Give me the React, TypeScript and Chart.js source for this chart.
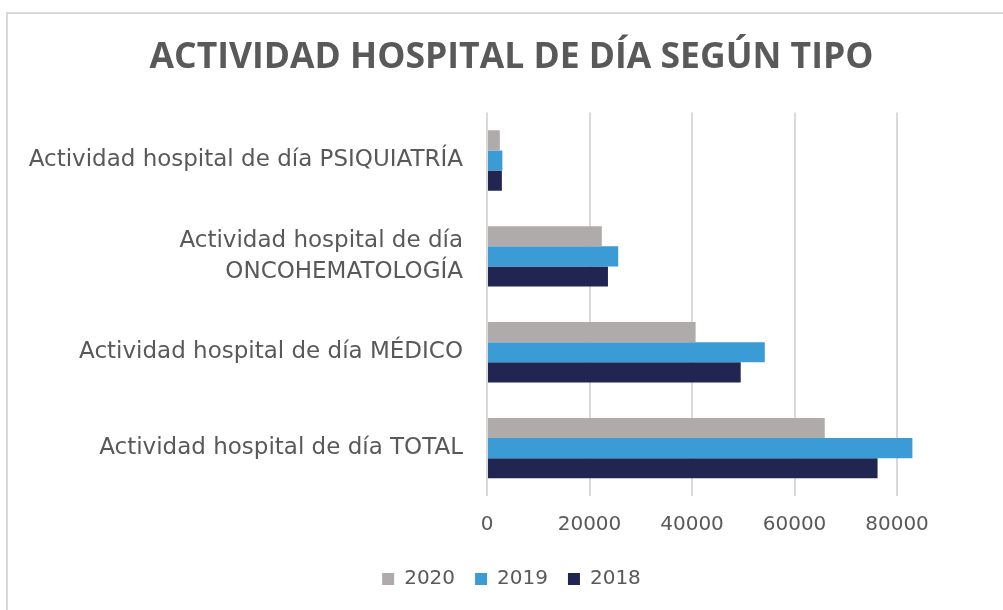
import React, { useEffect, useRef } from "react";
import { Chart, registerables } from "chart.js";

Chart.register(...registerables);

const categories: (string | string[])[] = [
  "Actividad hospital de día PSIQUIATRÍA",
  ["Actividad hospital de día", "ONCOHEMATOLOGÍA"],
  "Actividad hospital de día MÉDICO",
  "Actividad hospital de día TOTAL",
];
const values2020 = [2500, 22400, 40700, 65900];
const values2019 = [3000, 25600, 54200, 83000];
const values2018 = [2900, 23600, 49500, 76200];
const tickValues = [0, 20000, 40000, 60000, 80000];
const axisMax = 99700;
const titleText = "ACTIVIDAD HOSPITAL DE DÍA SEGÚN TIPO";

const TEXT = "#595959";
const FONT = "'DejaVu Sans', 'Open Sans', sans-serif";

export default function App() {
  const ref = useRef<HTMLCanvasElement>(null);
  useEffect(() => {
    document.documentElement.style.overflow = "hidden";
    if (!ref.current) return;
    const chart = new Chart(ref.current, {
      type: "bar",
      data: {
        labels: categories,
        datasets: [
          { label: "2020", data: values2020, backgroundColor: "#AFABAB" },
          { label: "2019", data: values2019, backgroundColor: "#3A9BD5" },
          { label: "2018", data: values2018, backgroundColor: "#212551" },
        ],
      },
      options: {
        indexAxis: "y",
        responsive: false,
        animation: false,
        events: [],
        datasets: { bar: { categoryPercentage: 0.63, barPercentage: 1 } },
        layout: { padding: { left: 17, right: 0, top: 0, bottom: 11 } },
        scales: {
          x: {
            min: 0,
            max: axisMax,
            afterBuildTicks: (axis: any) => {
              axis.ticks = tickValues.map((v) => ({ value: v }));
            },
            afterFit: (axis: any) => {
              axis.height = 53;
            },
            grid: { color: "#d9d9d9", lineWidth: 2, drawTicks: false },
            border: { display: false },
            ticks: {
              color: TEXT,
              padding: 17,
              font: { family: FONT, size: 20 },
              maxRotation: 0,
              callback: (v: any) => String(v),
            },
          },
          y: {
            afterFit: (axis: any) => {
              axis.width = 462;
            },
            grid: { display: false },
            border: { display: false },
            ticks: {
              color: TEXT,
              padding: 16,
              font: { family: FONT, size: 23, lineHeight: 1.32 },
            },
          },
        },
        plugins: {
          title: {
            display: true,
            text: titleText,
            color: TEXT,
            font: { family: "'Open Sans', sans-serif", size: 35.5, weight: "bold", lineHeight: 1.2 },
            padding: { top: 23, bottom: 33 },
          },
          legend: {
            position: "bottom",
            labels: {
              color: TEXT,
              font: { family: FONT, size: 20 },
              boxWidth: 12,
              boxHeight: 12,
              padding: 20,
            },
          },
          tooltip: { enabled: false },
        },
      },
    });
    return () => chart.destroy();
  }, []);
  return (
    <div
      style={{
        position: "absolute",
        left: 6,
        top: 12,
        width: 997,
        height: 598,
        boxSizing: "border-box",
        borderTop: "2px solid #d9d9d9",
        borderLeft: "2px solid #d9d9d9",
        background: "#fff",
      }}
    >
      <canvas ref={ref} width={990} height={596} style={{ display: "block" }} />
    </div>
  );
}
